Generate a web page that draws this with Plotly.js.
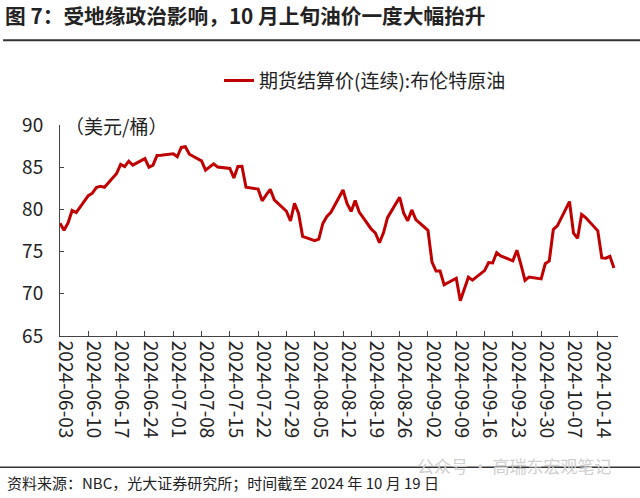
<!DOCTYPE html>
<html>
<head>
<meta charset="utf-8">
<script src="https://cdn.plot.ly/plotly-3.0.1.min.js"></script>
<style>
html,body{margin:0;padding:0;background:#fff;}
#chart{width:640px;height:498px;}
</style>
</head>
<body>
<div id="chart"></div>
<script>
// Brent continuous futures settlement, USD/bbl
const dates = [
 "2024-06-03","2024-06-04","2024-06-05","2024-06-06","2024-06-07",
 "2024-06-10","2024-06-11","2024-06-12","2024-06-13","2024-06-14",
 "2024-06-17","2024-06-18","2024-06-19","2024-06-20","2024-06-21",
 "2024-06-24","2024-06-25","2024-06-26","2024-06-27","2024-06-28",
 "2024-07-01","2024-07-02","2024-07-03","2024-07-04","2024-07-05",
 "2024-07-08","2024-07-09","2024-07-10","2024-07-11","2024-07-12",
 "2024-07-15","2024-07-16","2024-07-17","2024-07-18","2024-07-19",
 "2024-07-22","2024-07-23","2024-07-24","2024-07-25","2024-07-26",
 "2024-07-29","2024-07-30","2024-07-31","2024-08-01","2024-08-02",
 "2024-08-05","2024-08-06","2024-08-07","2024-08-08","2024-08-09",
 "2024-08-12","2024-08-13","2024-08-14","2024-08-15","2024-08-16",
 "2024-08-19","2024-08-20","2024-08-21","2024-08-22","2024-08-23",
 "2024-08-26","2024-08-27","2024-08-28","2024-08-29","2024-08-30",
 "2024-09-02","2024-09-03","2024-09-04","2024-09-05","2024-09-06",
 "2024-09-09","2024-09-10","2024-09-11","2024-09-12","2024-09-13",
 "2024-09-16","2024-09-17","2024-09-18","2024-09-19","2024-09-20",
 "2024-09-23","2024-09-24","2024-09-25","2024-09-26","2024-09-27",
 "2024-09-30","2024-10-01","2024-10-02","2024-10-03","2024-10-04",
 "2024-10-07","2024-10-08","2024-10-09","2024-10-10","2024-10-11",
 "2024-10-14","2024-10-15","2024-10-16","2024-10-17","2024-10-18"
];
const brent = [
 78.36,77.52,78.41,79.87,79.62,
 81.63,81.92,82.60,82.75,82.62,
 84.25,85.33,85.07,85.71,85.24,
 86.01,85.01,85.25,86.39,86.41,
 86.60,86.24,87.34,87.43,86.54,
 85.75,84.66,85.08,85.40,85.03,
 84.85,83.73,85.08,85.11,82.63,
 82.40,81.01,81.71,82.37,81.13,
 79.78,78.63,80.72,79.52,76.81,
 76.30,76.48,78.33,79.16,79.66,
 82.30,80.69,79.76,81.04,79.68,
 77.66,77.20,76.05,77.22,79.02,
 81.43,79.55,78.65,79.94,78.80,
 77.52,73.75,72.70,72.69,71.06,
 71.84,69.19,70.61,71.97,71.61,
 72.75,73.70,73.65,74.88,74.49,
 73.90,75.17,73.46,71.60,71.98,
 71.77,73.56,73.90,77.62,78.05,
 80.93,77.18,76.58,79.40,79.04,
 77.46,74.25,74.22,74.45,73.06
];
const seriesName = "期货结算价(连续):布伦特原油";
const yTicks = [65,70,75,80,85,90];
const xTickStart = "2024-06-03";
const xRange = ["2024-06-03","2024-10-19"];
const titleText = "图 7：受地缘政治影响，10 月上旬油价一度大幅抬升";
const unitText = "（美元/桶）";
const sourceText = "资料来源：NBC，光大证券研究所；时间截至 2024 年 10 月 19 日";
const watermarkText = "公众号 · 高瑞东宏观笔记";

const FONT = '"Noto Sans CJK SC", "Noto Sans", sans-serif';

const trace = {
  x: dates, y: brent, type: 'scatter', mode: 'lines', name: seriesName,
  line: {color: '#C00000', width: 3}
};

const layout = {
  width: 640, height: 498,
  margin: {l: 60, r: 22, t: 125, b: 162},
  paper_bgcolor: '#fff', plot_bgcolor: '#fff',
  font: {family: FONT, color: '#222', size: 16},
  title: {text: '<b>' + titleText + '</b>', x: 0.008, xanchor: 'left', xref: 'container',
          y: 0.967, yanchor: 'middle', yref: 'container',
          font: {family: FONT, size: 20.7, color: '#222'}},
  showlegend: true,
  legend: {x: 0.285, y: 1.21, xanchor: 'left', yanchor: 'middle', orientation: 'h',
           font: {family: FONT, size: 19, color: '#222'}, bgcolor: 'rgba(0,0,0,0)'},
  xaxis: {
    type: 'date', range: xRange, tick0: xTickStart, dtick: 7*86400000,
    tickformat: '%Y-%m-%d', tickangle: 90, ticks: 'inside', ticklen: 5,
    tickcolor: '#444', showline: true, linecolor: '#444', linewidth: 1,
    showgrid: false, zeroline: false, tickfont: {family: FONT, size: 19, color: '#222'},
    ticklabelshift: 5
  },
  yaxis: {
    range: [65, 90], tickvals: yTicks, ticks: 'inside', ticklen: 4,
    tickcolor: '#444', showline: true, linecolor: '#444', linewidth: 1,
    showgrid: false, zeroline: false, tickfont: {family: FONT, size: 19, color: '#222'},
    ticklabelstandoff: 12
  },
  shapes: [
    {type: 'line', xref: 'paper', yref: 'paper', x0: -0.102, x1: 1.04, y0: 1.402, y1: 1.402,
     line: {color: '#333', width: 2}},
    {type: 'line', xref: 'paper', yref: 'paper', x0: -0.108, x1: 1.04, y0: -0.622, y1: -0.622,
     line: {color: '#333', width: 1.5}}
  ],
  annotations: [
    {text: unitText, xref: 'paper', yref: 'paper', x: 0.005, y: 1.0, xanchor: 'left', yanchor: 'middle',
     showarrow: false, font: {family: FONT, size: 19, color: '#222'}},
    {text: watermarkText, xref: 'paper', yref: 'paper', x: 0.637, y: -0.615, xanchor: 'left', yanchor: 'middle',
     showarrow: false, font: {family: FONT, size: 17, color: '#cfcfcf'}},
    {text: sourceText, xref: 'paper', yref: 'paper', x: -0.0986, y: -0.693, xanchor: 'left', yanchor: 'middle',
     showarrow: false, font: {family: FONT, size: 15, color: '#222'}}
  ]
};

Plotly.newPlot('chart', [trace], layout, {staticPlot: true, displayModeBar: false});
</script>
</body>
</html>
